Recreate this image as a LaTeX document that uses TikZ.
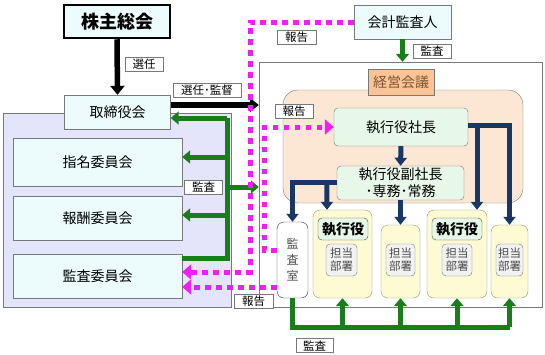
\documentclass[tikz,border=0pt]{standalone}
\usepackage{fontspec}
\setmainfont{Noto Sans CJK JP}
\usetikzlibrary{arrows.meta, positioning, calc}
\definecolor{grn1}{RGB}{25,125,25}
\definecolor{navy1}{RGB}{25,55,100}
\definecolor{mag1}{RGB}{240,30,240}
\definecolor{cyan1}{RGB}{236,252,252}
\definecolor{lav1}{RGB}{228,228,250}
\definecolor{peach1}{RGB}{252,230,212}
\definecolor{orng1}{RGB}{250,196,150}
\definecolor{brn1}{RGB}{125,85,50}
\definecolor{mint1}{RGB}{232,248,232}
\definecolor{yel1}{RGB}{253,251,212}
\definecolor{gry1}{RGB}{120,120,120}

\begin{document}
\begin{tikzpicture}[x=1pt, y=-1pt,
  cbox/.style={draw=gry1, fill=cyan1, minimum width=#1, inner sep=0pt, font=\fontsize{14}{16}\selectfont},
  ebox/.style={draw=gry1, fill=mint1, rounded corners=4pt, inner sep=0pt, align=center, font=\fontsize{14}{16}\selectfont},
  dept/.style={draw=gry1!80!yellow, fill=yel1, rounded corners=7pt, inner sep=0pt},
  unit/.style={draw=gry1, fill=black!5, rounded corners=4pt, inner sep=0pt, align=center, text=black!70, font=\fontsize{11.5}{13}\selectfont},
  lbl/.style={draw=gry1, fill=white, inner sep=0pt, minimum height=14pt, font=\fontsize{11.5}{13}\selectfont},
  sel/.style={line width=5.5pt, -{Triangle[length=9pt, width=14pt]}},
  grnl/.style={draw=grn1, line width=5pt, -{Triangle[length=8pt, width=13pt]}},
  nvy/.style={draw=navy1, line width=5pt, -{Triangle[length=8pt, width=12pt]}},
  rpt/.style={draw=mag1, line width=5pt, dash pattern=on 5.5pt off 5.5pt, -{Triangle[length=9pt, width=15pt]}}
]
  \useasboundingbox (0,0) rectangle (545,354);

  % backgrounds
  \node[draw=gry1, fill=lav1, minimum width=228pt, minimum height=194pt, inner sep=0pt] (lav) at (117,210) {};
  \node[draw=gry1, fill=white, minimum width=283pt, minimum height=245pt, inner sep=0pt] (exe) at (400.5,184.5) {};
  \node[draw=gry1, fill=peach1, rounded corners=15pt, minimum width=240pt, minimum height=113pt, inner sep=0pt] (mtg) at (403,146.5) {};

  % board side
  \node[draw=black, line width=2.5pt, fill=cyan1, minimum width=106pt, minimum height=33pt, font=\fontsize{18}{20}\selectfont\bfseries] (gm) at (117,21.5) {株主総会};
  \node[cbox=106pt, minimum height=34pt] (bod) at (117.5,112) {取締役会};
  \node[cbox=169pt, minimum height=48pt] (nom) at (97.5,162) {指名委員会};
  \node[cbox=169pt, minimum height=44pt] (rem) at (97.5,218) {報酬委員会};
  \node[cbox=169pt, minimum height=44pt] (aud) at (97.5,276) {監査委員会};

  % executive side
  \node[cbox=97pt, minimum height=34pt] (acc) at (402.5,22) {会計監査人};
  \node[draw=gry1, fill=orng1, minimum width=66pt, minimum height=26pt, inner sep=0pt, text=brn1, font=\fontsize{14}{16}\selectfont] (kk) at (401,82) {経営会議};
  \node[ebox, minimum width=134pt, minimum height=38pt] (ceo) at (401,127) {執行役社長};
  \node[ebox, minimum width=127pt, minimum height=34pt, font=\fontsize{14}{17}\selectfont] (vp) at (400.5,183) {執行役副社長\\･専務･常務};
  \node[draw=black!80, fill=white, rounded corners=7pt, minimum width=31pt, minimum height=76pt, inner sep=0pt, align=center, text=black!70, font=\fontsize{12}{16}\selectfont] (ia) at (292.5,260) {監\\査\\室};
  \node[dept, minimum width=59pt, minimum height=88pt] (d1) at (342.5,254) {};
  \node[dept, minimum width=39pt, minimum height=73pt] (d2) at (400.5,261.5) {};
  \node[dept, minimum width=60pt, minimum height=88pt] (d3) at (457,254) {};
  \node[dept, minimum width=37pt, minimum height=73pt] (d4) at (509.5,261.5) {};
  \node[ebox, draw=black!70, minimum width=50pt, minimum height=22pt, font=\fontsize{14}{16}\selectfont\bfseries] (ex1) at (343,229) {執行役};
  \node[ebox, draw=black!70, minimum width=50pt, minimum height=22pt, font=\fontsize{14}{16}\selectfont\bfseries] (ex3) at (457,229) {執行役};
  \node[unit, minimum width=31pt, minimum height=32pt] (u1) at (341.5,260) {担当\\部署};
  \node[unit, minimum width=29pt, minimum height=32pt] (u2) at (400.5,260) {担当\\部署};
  \node[unit, minimum width=30pt, minimum height=32pt] (u3) at (457,260) {担当\\部署};
  \node[unit, minimum width=27pt, minimum height=32pt] (u4) at (509.5,260) {担当\\部署};

  % appointment
  \draw[sel] (gm.south) -- (bod.north);
  \coordinate (b1) at ($(bod.east)+(0,-7)$);
  \draw[sel] (b1) -- (b1 -| exe.west);

  % audit (green)
  \coordinate (g1) at (227,118);
  \coordinate (g2) at (227,258);
  \draw[grnl, -, line join=miter] (aud.east |- g2) -- (g2) -- (g1);
  \draw[grnl] (g1) -- (g1 -| bod.east);
  \draw[grnl] (g1 |- nom.east) ++(0,-5) -- ($(nom.east)+(0,-5)$);
  \draw[grnl] (g1 |- rem.east) ++(0,-3) -- ($(rem.east)+(0,-3)$);
  \draw[grnl] (g1 |- exe.west) ++(0,2.5) -- ($(exe.west)+(0,2.5)$);
  \draw[grnl] (acc.south) -- (acc.south |- exe.north);
  \coordinate (g3) at (509.5,327);
  \draw[grnl, -, line join=miter] (ia.south) |- (g3);
  \foreach \d in {d1,d2,d3,d4}
    \draw[grnl] (\d.south |- g3) -- (\d.south);

  % command (navy)
  \draw[nvy] (ceo.south) -- (vp.north);
  \draw[nvy] ($(vp.west)+(0,-1)$) -| (ia.north);
  \draw[nvy] ($(vp.west)+(-10,-1)$) -- ($(d1.north)+(-15.5,0)$);
  \draw[nvy] (vp.south) -- (d2.north);
  \draw[nvy] ($(ceo.east)+(0,-2)$) -| (d4.north);
  \coordinate (n3) at ($(d3.north)+(20,0)$);
  \draw[nvy] ($(ceo.east)+(9,-2)$) -| (n3);

  % reports (magenta)
  \coordinate (m1) at (250,272);
  \draw[rpt] (acc.west) -| (m1) -- (aud.east |- m1);
  \draw[rpt] ($(ia.west)+(0,-10)$) -- ++(-12,0) |- (ceo.west);
  \draw[rpt] ($(ia.west)+(0,27)$) -- ($(aud.east)+(0,11)$);

  % labels
  \node[lbl, minimum width=38pt] (l1) at (144,64.5) {選任};
  \node[lbl, minimum width=68pt] (l2) at (207,90.5) {選任･監督};
  \node[lbl, minimum width=38pt] (l3) at (203.5,187.5) {監査};
  \node[lbl, minimum width=39pt] (l4) at (296.5,37.5) {報告};
  \node[lbl, minimum width=38pt] (l5) at (432,51.5) {監査};
  \node[lbl, minimum width=38pt] (l6) at (294,111) {報告};
  \node[lbl, minimum width=39pt] (l7) at (253.5,301) {報告};
  \node[lbl, minimum width=37pt] (l8) at (314.5,345.5) {監査};
\end{tikzpicture}
\end{document}
